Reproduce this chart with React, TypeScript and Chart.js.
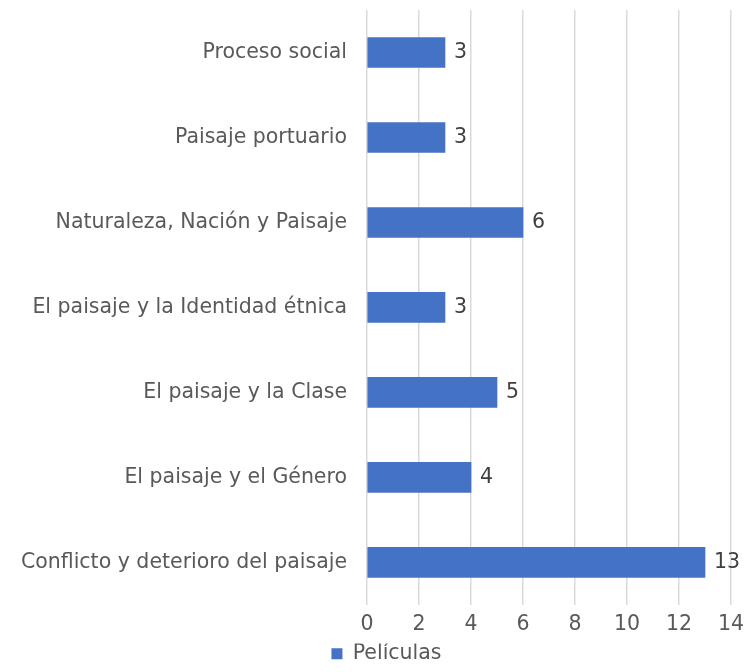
import React, { useEffect, useRef } from "react";
import { Chart, registerables } from "chart.js";

Chart.register(...registerables);

const categories = [
  "Proceso social",
  "Paisaje portuario",
  "Naturaleza, Nación y Paisaje",
  "El paisaje y la Identidad étnica",
  "El paisaje y la Clase",
  "El paisaje y el Género",
  "Conflicto y deterioro del paisaje",
];
const peliculas = [3, 3, 6, 3, 5, 4, 13];
const seriesName = "Películas";
const xMin = 0;
const xMax = 14;
const xStep = 2;

const FONT = "'DejaVu Sans', sans-serif";
const FS = 20.5;
const TEXT = "#595959";

const dataLabels = {
  id: "dataLabels",
  afterLayout(chart: any) {
    const lg = chart.legend;
    if (lg) {
      lg.left += 21;
      lg.right += 21;
    }
  },
  afterDatasetsDraw(chart: any) {
    const ctx = chart.ctx;
    const meta = chart.getDatasetMeta(0);
    ctx.save();
    ctx.font = `${FS}px ${FONT}`;
    ctx.fillStyle = "#404040";
    ctx.textAlign = "left";
    ctx.textBaseline = "middle";
    meta.data.forEach((el: any, i: number) => {
      ctx.fillText(String(peliculas[i]), el.x + 9, el.y);
    });
    ctx.restore();
  },
};

export default function App() {
  const ref = useRef<HTMLCanvasElement | null>(null);
  useEffect(() => {
    document.body.style.margin = "0";
    if (!ref.current) return;
    const chart = new Chart(ref.current, {
      type: "bar",
      data: {
        labels: categories,
        datasets: [
          {
            label: seriesName,
            data: peliculas,
            backgroundColor: "#4472C4",
            borderWidth: 0,
            barThickness: 30,
          },
        ],
      },
      options: {
        indexAxis: "y",
        animation: false,
        responsive: true,
        maintainAspectRatio: false,
        layout: { padding: { top: 10, right: 14, bottom: -2, left: 0 } },
        scales: {
          x: {
            min: xMin,
            max: xMax,
            ticks: {
              stepSize: xStep,
              padding: 7,
              color: TEXT,
              font: { family: FONT, size: FS },
            },
            grid: { color: "#d9d9d9", lineWidth: 1.5, drawTicks: false },
            border: { display: false },
            afterFit: (scale: any) => {
              scale.paddingLeft = 0;
              scale.paddingRight = 0;
            },
          },
          y: {
            ticks: {
              padding: 20,
              color: TEXT,
              font: { family: FONT, size: FS },
            },
            grid: { display: false, drawTicks: false },
            border: { display: false },
            afterFit: (scale: any) => {
              scale.width = 367;
              scale.paddingTop = 0;
              scale.paddingBottom = 0;
            },
          },
        },
        plugins: {
          legend: {
            position: "bottom",
            labels: {
              boxWidth: 11,
              boxHeight: 11,
              padding: 0,
              color: TEXT,
              font: { family: FONT, size: FS },
            },
          },
          tooltip: { enabled: false },
        },
      },
      plugins: [dataLabels],
    });
    return () => chart.destroy();
  }, []);
  return (
    <div style={{ width: 745, height: 672, position: "relative" }}>
      <canvas ref={ref} />
    </div>
  );
}
